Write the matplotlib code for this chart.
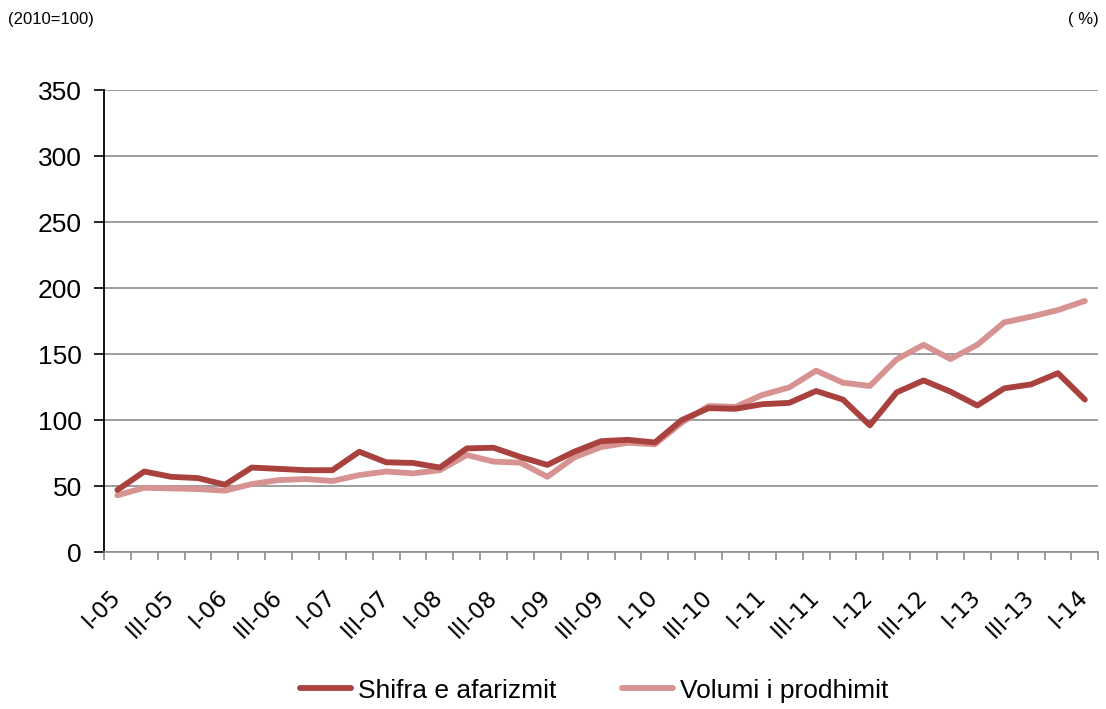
import matplotlib
matplotlib.use("Agg")
from matplotlib import pyplot as plt
from matplotlib.ticker import FixedLocator
from matplotlib.transforms import ScaledTranslation
import numpy as np

# quarterly data, I-05 .. I-14 (2010=100)
quarters = []
for yr in range(5, 15):
    for q in ["I", "II", "III", "IV"]:
        quarters.append(q + "-" + str(yr).zfill(2))
quarters = quarters[:37]

shifra = [47, 61, 57, 56, 51, 64, 63, 62, 62, 76,
          68, 67.5, 64, 78.5, 79, 72, 66, 76, 84, 85,
          83, 100, 109, 108.5, 112, 113, 122, 115.5, 96, 121,
          130, 121.5, 111, 124, 127, 135.5, 115.5]
volumi = [43, 48.7, 48.2, 47.7, 46.5, 51.5, 54.5, 55.3, 53.8, 58.3,
          61, 59.6, 62, 73.5, 68.5, 67.7, 57, 71.7, 79.5, 82.8,
          81.6, 98, 110.6, 110, 119, 124.7, 137.4, 128.3, 125.8, 146,
          157, 146.2, 157, 174, 178.3, 183.3, 190.2]

dark_red = "#A9423F"
light_red = "#D69391"

fig = plt.figure(figsize=(11.06, 7.09), dpi=100)
ax = fig.add_axes([0.094, 0.2214, 0.899, 0.6516])

x = np.arange(len(quarters))
ax.plot(x, shifra, color=dark_red, lw=4.2, label="Shifra e afarizmit",
        solid_capstyle="round", zorder=3)
ax.plot(x, volumi, color=light_red, lw=4.2, label="Volumi i prodhimit",
        solid_capstyle="round", zorder=2)

ax.set_xlim(-0.5, len(quarters) - 0.5)
ax.set_ylim(0, 350)
ax.set_yticks(range(0, 351, 50))
ax.yaxis.grid(True, color="#8c8c8c", lw=1.2)
ax.set_axisbelow(True)

# labels every second quarter, tick marks between categories
ax.set_xticks(x[::2])
ax.set_xticklabels(quarters[::2], rotation=45, ha="right", fontsize=16.5,
                   family="DejaVu Sans")
ax.tick_params(axis="x", which="major", length=0, pad=24)
shift = ScaledTranslation(8 / 100, 0, fig.dpi_scale_trans)
for lbl in ax.get_xticklabels():
    lbl.set_transform(lbl.get_transform() + shift)
ax.xaxis.set_minor_locator(FixedLocator(np.arange(-0.5, len(quarters), 1)))
ax.tick_params(axis="x", which="minor", length=6, width=1.2, color="#8c8c8c")

ax.tick_params(axis="y", length=7, width=1.2, labelsize=19, pad=9)
for lbl in ax.get_yticklabels():
    lbl.set_family("Liberation Sans")

for side in ["top", "right"]:
    ax.spines[side].set_visible(False)
ax.spines["left"].set_color("black")
ax.spines["left"].set_linewidth(1.3)
ax.spines["bottom"].set_color("#8c8c8c")
ax.spines["bottom"].set_linewidth(1.2)

fig.text(0.007, 0.972, "(2010=100)", fontsize=12,
         family=["Liberation Sans Narrow", "Liberation Sans"], va="center")
fig.text(0.993, 0.972, "( %)", fontsize=12,
         family=["Liberation Sans Narrow", "Liberation Sans"], va="center", ha="right")

leg = fig.legend(loc="center", bbox_to_anchor=(0.537, 0.026), ncol=2,
                 frameon=False, handlelength=1.95, handletextpad=0.25,
                 columnspacing=2.5, prop={"family": "Liberation Sans", "size": 19})

fig.savefig("out.png", dpi=100)
